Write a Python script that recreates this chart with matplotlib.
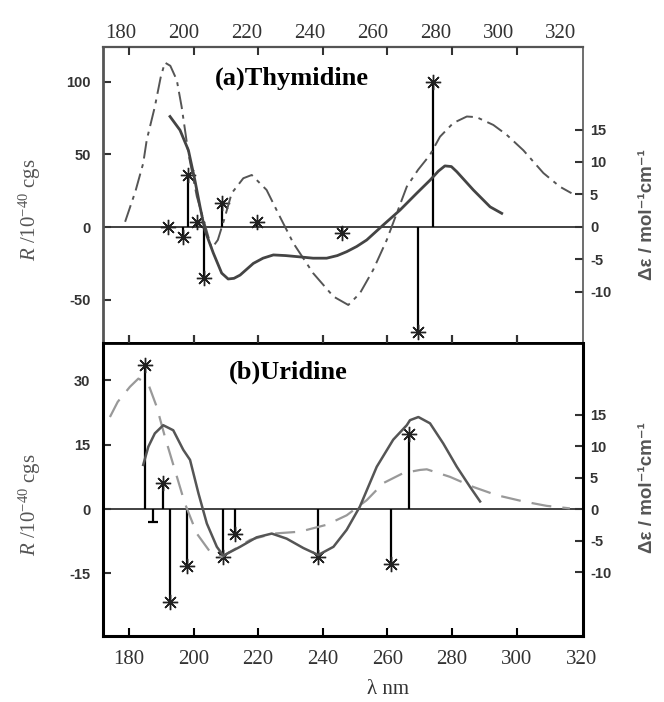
import matplotlib
matplotlib.use("Agg")
import matplotlib.pyplot as plt

plt.rcParams['mathtext.fontset'] = 'custom'
plt.rcParams['mathtext.rm'] = 'Liberation Serif'
plt.rcParams['mathtext.it'] = 'Liberation Serif:italic'

# ---------------- data ----------------
# (a) Thymidine : experimental CD (dashed), calculated CD (solid) in delta-epsilon
thy_exp_wl = [178.8, 182.0, 184.4, 185.5, 188.0, 189.8, 191.1, 192.8, 194.8, 196.3, 198.4, 201.0,
              204.0, 205.6, 207.5, 209.5, 211.8, 215.4, 218.0, 222.6, 226.7, 230.9, 237.0, 243.3,
              247.9, 251.5, 255.6, 259.8, 262.9, 266.0, 269.5, 273.2, 276.3, 280.4, 284.6, 287.6,
              292.8, 296.9, 302.1, 308.3, 313.4, 317.0]
thy_exp_de = [0.8, 5.5, 9.8, 13.4, 18.5, 23.0, 25.3, 24.8, 22.6, 18.5, 11.3, 4.7,
              -0.5, -3.3, -2.0, 1.2, 5.2, 7.5, 8.0, 5.7, 1.6, -2.5, -7.1, -10.7,
              -12.0, -10.2, -6.6, -2.0, 2.1, 6.2, 8.8, 11.1, 13.9, 16.0, 17.0, 16.9,
              15.7, 14.2, 11.8, 8.3, 6.2, 5.2]
thy_calc_wl = [192.7, 195.8, 198.4, 200.4, 202.0, 203.5, 206.1, 208.7, 210.7, 212.5, 214.4, 218.5,
               221.5, 224.7, 228.5, 232.9, 237.0, 241.2, 244.5, 247.4, 250.5, 253.6, 258.7, 263.9,
               269.1, 273.2, 275.8, 277.8, 279.8, 281.5, 286.6, 291.8, 295.4]
thy_calc_de = [17.0, 14.9, 11.8, 7.2, 3.1, -0.5, -4.0, -7.1, -8.0, -7.9, -7.4, -5.6,
               -4.8, -4.3, -4.4, -4.6, -4.8, -4.8, -4.4, -3.8, -3.0, -2.0, 0.3, 2.6,
               5.2, 7.2, 8.6, 9.4, 9.3, 8.5, 5.7, 3.1, 2.1]
# rotational strengths (R / 1e-40 cgs)
thy_R_wl = [192.2, 196.8, 198.4, 201.0, 203.3, 208.7, 219.5, 245.9, 269.4, 274.0]
thy_R = [0.0, -6.7, 35.8, 3.6, -35.0, 16.5, 3.6, -3.9, -72.0, 100.0]

# (b) Uridine
uri_exp_wl = [174.1, 176.5, 180.3, 182.9, 186.0, 188.6, 191.1, 194.2, 197.3, 201.0, 205.1, 208.7,
              212.3, 217.5, 224.7, 232.9, 241.2, 247.4, 253.6, 258.7, 264.9, 270.1, 272.2, 279.4,
              286.6, 293.8, 302.1, 309.3, 316.5]
uri_exp_de = [14.6, 17.0, 19.4, 20.7, 19.8, 16.2, 11.5, 6.2, 0.9, -3.9, -6.8, -7.6,
              -6.5, -4.9, -3.9, -3.6, -2.5, -1.0, 1.4, 4.1, 5.7, 6.2, 6.3, 5.1,
              3.5, 2.2, 1.2, 0.5, 0.1]
uri_calc_wl = [184.4, 186.0, 188.0, 190.6, 193.7, 196.8, 198.9, 201.5, 204.1, 207.2, 209.2, 214.4,
               219.5, 224.2, 228.8, 234.0, 238.6, 243.3, 247.4, 251.5, 256.7, 261.8, 266.0, 267.0,
               269.6, 273.2, 277.3, 281.5, 285.6, 288.7]
uri_calc_de = [7.0, 9.9, 12.0, 13.3, 12.5, 9.4, 7.8, 2.5, -2.3, -6.0, -7.4, -6.0,
               -4.5, -3.9, -4.7, -6.2, -7.3, -6.0, -3.3, 0.4, 6.7, 11.0, 13.3, 14.1,
               14.6, 13.6, 10.4, 6.7, 3.5, 1.2]
uri_R_wl = [185.0, 187.5, 190.6, 192.7, 197.9, 209.0, 212.8, 238.6, 261.1, 266.7]
uri_R = [33.6, -3.0, 6.0, -21.6, -13.2, -11.1, -5.9, -11.1, -12.7, 17.6]
uri_R_cap = [1]  # index drawn with a small cap instead of a star

x_ticks = [180, 200, 220, 240, 260, 280, 300, 320]
thy_left_ticks = [-50, 0, 50, 100]
uri_left_ticks = [-15, 0, 15, 30]
right_ticks = [-10, -5, 0, 5, 10, 15]

# ---------------- figure ----------------
fig = plt.figure(figsize=(6.64, 7.02), dpi=100)
L, W = 0.1551, 0.7229
ax1 = fig.add_axes([L, 0.5114, W, 0.4217])
ax2 = fig.add_axes([L, 0.0940, W, 0.4174])
ax1r = ax1.twinx()
ax2r = ax2.twinx()

XLIM = (171.95, 320.56)
for a in (ax1, ax2):
    a.set_xlim(*XLIM)
ax1.set_ylim(-79.8, 123.9)
ax1r.set_ylim(-17.85, 27.7)
ax2.set_ylim(-29.6, 38.7)
ax2r.set_ylim(-20.16, 26.35)

star = (8, 2, 0)

# Thymidine
ax1.axhline(0, color='#333333', lw=1.3, zorder=1)
ax1.vlines(thy_R_wl, 0, thy_R, color='black', lw=1.6, zorder=3)
ax1.plot(thy_R_wl, thy_R, ls='none', marker=star, ms=11, mec='#222222', mew=1.0, zorder=4)
ax1r.plot(thy_exp_wl, thy_exp_de, color='#555555', lw=1.4, ls=(0, (9, 3, 2, 3)))
ax1r.plot(thy_calc_wl, thy_calc_de, color='#444444', lw=2.0, solid_joinstyle='round')

# Uridine
ax2.axhline(0, color='#333333', lw=1.3, zorder=1)
ax2.vlines(uri_R_wl, 0, uri_R, color='black', lw=1.6, zorder=3)
sw = [w for i, w in enumerate(uri_R_wl) if i not in uri_R_cap]
sr = [r for i, r in enumerate(uri_R) if i not in uri_R_cap]
cw = [uri_R_wl[i] for i in uri_R_cap]
cr = [uri_R[i] for i in uri_R_cap]
ax2.plot(sw, sr, ls='none', marker=star, ms=11, mec='#222222', mew=1.0, zorder=4)
ax2.plot(cw, cr, ls='none', marker='_', ms=7, mec='black', mew=1.6, zorder=4)
ax2r.plot(uri_exp_wl, uri_exp_de, color='#999999', lw=1.6, ls=(0, (9, 5)))
ax2r.plot(uri_calc_wl, uri_calc_de, color='#555555', lw=1.8, solid_joinstyle='round')

# ---------------- axes styling ----------------
tick_font = dict(family='Liberation Sans', weight='bold', size=10.5)
serif_tick = dict(family='Liberation Serif', size=15)

for a, ticks in ((ax1, thy_left_ticks), (ax2, uri_left_ticks)):
    a.set_yticks(ticks)
    a.set_yticklabels([str(t) for t in ticks], fontdict=tick_font, color='#333333')
    a.tick_params(axis='y', direction='in', length=6, width=1.5, pad=9, colors='#333333')
    a.spines['right'].set_visible(False)

for a in (ax1r, ax2r):
    a.set_yticks(right_ticks)
    a.set_yticklabels([str(t) for t in right_ticks], fontdict=tick_font, color='#333333')
    a.tick_params(axis='y', direction='in', length=6, width=1.5, pad=5, colors='#333333')
    for s in ('left', 'top', 'bottom'):
        a.spines[s].set_visible(False)

ax2.set_xticks(x_ticks)
ax2.set_xticklabels([str(t) for t in x_ticks], fontdict=serif_tick, color='#333333')
ax2.tick_params(axis='x', direction='in', length=6, width=1.5, pad=10)
ax2.xaxis.get_major_ticks()[-1].tick1line.set_visible(False)

# tick marks of the top panel (top and bottom edges), carried by the twin axes
ax1.set_xticks(x_ticks[:-1])
ax1.tick_params(axis='x', direction='in', length=6, width=1.5, labelbottom=False)
ax1r.xaxis.set_visible(True)
ax1r.set_xticks(x_ticks[:-1])
ax1r.tick_params(axis='x', which='major', direction='in', length=6, width=1.5,
                 top=True, bottom=True, labelbottom=False, labeltop=False, color='#333333')

# top axis labels (the printed scale is slightly offset in the original)
def fwd(x):
    return 180 + (8 + 3.23 * (x - 180)) / 3.143

def inv(x):
    return 180 + (3.143 * (x - 180) - 8) / 3.23

sec = ax1.secondary_xaxis('top', functions=(fwd, inv))
sec.set_xticks(x_ticks)
sec.set_xticklabels([str(t) for t in x_ticks], fontdict=serif_tick, color='#333333')
sec.tick_params(axis='x', which='major', direction='in', length=0, pad=3)
sec.spines['top'].set_visible(False)

ax1.spines['top'].set_linewidth(1.6)
ax1.spines['top'].set_color('#555555')
ax1.spines['left'].set_linewidth(2.0)
ax1.spines['left'].set_color('#555555')
ax1r.spines['right'].set_linewidth(1.2)
ax1r.spines['right'].set_color('#555555')
ax1.spines['bottom'].set_linewidth(2.0)
ax2.spines['top'].set_linewidth(2.0)
for s in ('left', 'bottom'):
    ax2.spines[s].set_linewidth(2.2)
ax2r.spines['right'].set_linewidth(2.2)

# ---------------- texts ----------------
fig.text(292 / 664, 1 - 78 / 702, '(a)Thymidine', ha='center', va='center',
         family='Liberation Serif', weight='bold', size=19)
fig.text(288 / 664, 1 - 372 / 702, '(b)Uridine', ha='center', va='center',
         family='Liberation Serif', weight='bold', size=19)

ylab = r'$R$ /10$^{-40}$ cgs'
for yc in (210, 505):
    fig.text(30 / 664, 1 - yc / 702, ylab, rotation=90, ha='center', va='center',
             family='Liberation Serif', size=15, color='#555555')

rlab = 'Δε / mol⁻¹cm⁻¹'
for yc in (215, 488):
    fig.text(647 / 664, 1 - yc / 702, rlab, rotation=90, ha='center', va='center',
             family=['Liberation Sans', 'DejaVu Sans'], weight='bold', size=13.5, color='#555555')

fig.text(388 / 664, 1 - 690 / 702, 'λ nm', ha='center', va='center',
         family=['Liberation Serif', 'DejaVu Serif'], size=15, color='#333333')

fig.savefig('out.png', dpi=100)
